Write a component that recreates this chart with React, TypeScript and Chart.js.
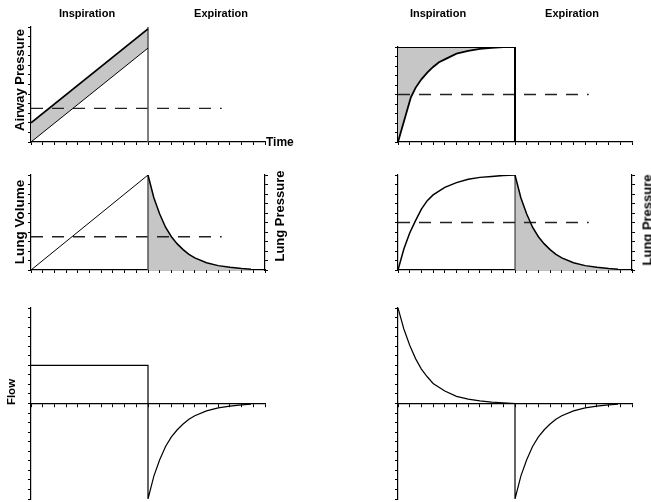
import React, { useEffect, useRef } from "react";
import { Chart, registerables } from "chart.js";

Chart.register(...registerables);

const W = 651;
const H = 502;
const TICK = 3;
const FONT = '"Liberation Sans", Arial, Helvetica, sans-serif';

// ---------- data ----------
const phaseLabels = ["Inspiration", "Expiration"];
const timeRange = [0, 20];
const switchTime = [10, 10];

// top-left: constant flow -> airway pressure ramp
const rampTime = [0, 10];
const airwayRamp = [2, 11.8];
const alveolarRamp = [0, 9.8];
const pressureSpanTop = [0, 12];

// dashed reference levels
const dashTime = [0, 16.3];
const dashLevelLow = [3.5, 3.5];
const dashLevelMid = [5, 5];

// top-right: pressure control, alveolar pressure rise
const riseTime = [0, 1.1, 1.5, 2, 2.5, 3, 3.5, 4, 5, 6, 7, 8, 9, 10];
const alveolarRise = [0, 4.7, 5.7, 6.6, 7.3, 7.9, 8.4, 8.7, 9.3, 9.6, 9.8, 9.9, 10, 10];
const plateauTime = [0, 10];
const plateauLevel = [10, 10];
const plateauDrop = [10, 0];

// middle row: lung volume
const volumeRampTime = [0, 10];
const volumeRamp = [0, 10];
const volumeRiseTime = [0, 0.5, 1, 1.5, 2, 2.5, 3, 4, 5, 6, 7, 8, 9, 10];
const volumeRise = [0, 2.2, 3.9, 5.2, 6.4, 7.3, 7.9, 8.7, 9.2, 9.55, 9.75, 9.85, 9.95, 10];
const decayTime = [10, 10.5, 11, 11.5, 12, 12.5, 13, 13.5, 14, 15, 16, 17, 18, 18.8];
const volumeDecay = [10, 7.6, 5.9, 4.5, 3.5, 2.75, 2.15, 1.65, 1.28, 0.77, 0.46, 0.28, 0.15, 0.08];
const volumeSpan = [0, 10];

// bottom row: flow
const flowLeftTime = [0, 10, 10, 10.5, 11, 11.5, 12, 12.5, 13, 13.5, 14, 15, 16, 17, 18, 18.8];
const flowLeft = [4, 4, -10, -7.6, -5.9, -4.5, -3.5, -2.75, -2.15, -1.65, -1.28, -0.77, -0.46, -0.28, -0.15, -0.08];
const flowRightTime = [0, 0.5, 1, 1.5, 2, 2.5, 3, 4, 5, 6, 7, 8, 9, 10, 10, 10.5, 11, 11.5, 12, 12.5, 13, 13.5, 14, 15, 16, 17, 18, 18.8];
const flowRight = [10, 7.8, 6.1, 4.7, 3.6, 2.8, 2.1, 1.3, 0.75, 0.45, 0.27, 0.15, 0.08, 0, -10, -7.6, -5.9, -4.5, -3.5, -2.75, -2.15, -1.65, -1.28, -0.77, -0.46, -0.28, -0.15, -0.08];

// ---------- helpers ----------
const pts = (xs: number[], ys: number[]) => xs.map((x, i) => ({ x, y: ys[i] }));
const SHADE = "#c6c6c6";

const line = (data: any, extra: any = {}) => ({
  data,
  borderColor: "#000",
  borderWidth: 1,
  pointRadius: 0,
  tension: 0,
  fill: false,
  ...extra,
});
const dashed = (levels: number[]) =>
  line(pts(dashTime, levels), { borderColor: "#222", borderWidth: 1.3, borderDash: [12, 9] });

type Panel = {
  area: [number, number, number, number];
  yRange: [number, number];
  zeroAxis?: boolean;
  rightAxis?: boolean;
  datasets: any[];
};

const panels: Panel[] = [
  {
    area: [31, 27, 265, 142],
    yRange: [0, 12],
    datasets: [
      line(pts(rampTime, alveolarRamp), { borderWidth: 1 }),
      line(pts(rampTime, airwayRamp), { borderWidth: 1.8, fill: "-1", backgroundColor: SHADE }),
      line(pts(switchTime, pressureSpanTop), { borderColor: "#555", borderWidth: 1.5 }),
      dashed(dashLevelLow),
    ],
  },
  {
    area: [398, 47, 632, 142],
    yRange: [0, 10],
    datasets: [
      line(pts(riseTime, alveolarRise), { borderWidth: 1.8, fill: "end", backgroundColor: SHADE }),
      line(pts(plateauTime, plateauLevel), { borderWidth: 2 }),
      line(pts(switchTime, plateauDrop), { borderWidth: 2 }),
      dashed(dashLevelMid),
    ],
  },
  {
    area: [31, 175, 265, 270],
    yRange: [0, 10],
    rightAxis: true,
    datasets: [
      line(pts(volumeRampTime, volumeRamp), { borderWidth: 1 }),
      line(pts(decayTime, volumeDecay), { borderWidth: 1.5, fill: "origin", backgroundColor: SHADE }),
      line(pts(switchTime, volumeSpan), { borderColor: "#555", borderWidth: 1.5 }),
      dashed(dashLevelLow),
    ],
  },
  {
    area: [398, 175, 632, 270],
    yRange: [0, 10],
    rightAxis: true,
    datasets: [
      line(pts(volumeRiseTime, volumeRise), { borderWidth: 1.5 }),
      line(pts(decayTime, volumeDecay), { borderWidth: 1.5, fill: "origin", backgroundColor: SHADE }),
      line(pts(switchTime, volumeSpan), { borderColor: "#222", borderWidth: 1 }),
      dashed(dashLevelMid),
    ],
  },
  {
    area: [31, 308, 265, 499],
    yRange: [-10, 10],
    zeroAxis: true,
    datasets: [line(pts(flowLeftTime, flowLeft), { borderWidth: 1.2 })],
  },
  {
    area: [398, 308, 632, 499],
    yRange: [-10, 10],
    zeroAxis: true,
    datasets: [line(pts(flowRightTime, flowRight), { borderWidth: 1.2 })],
  },
];

const axisStyle = () => ({
  ticks: { display: false, stepSize: 1, maxTicksLimit: 100, autoSkip: false },
  grid: { drawOnChartArea: false, drawTicks: true, tickLength: TICK, color: "#000", lineWidth: 1 },
  border: { display: true, color: "#000", width: 1.2 },
});

function buildConfig(p: Panel): any {
  const [l, t, r, b] = p.area;
  const scales: any = {
    x: {
      type: "linear",
      min: timeRange[0],
      max: timeRange[1],
      position: p.zeroAxis ? { y: 0 } : "bottom",
      ...axisStyle(),
    },
    y: { type: "linear", min: p.yRange[0], max: p.yRange[1], position: "left", ...axisStyle() },
  };
  if (p.rightAxis) {
    scales.y2 = { type: "linear", min: p.yRange[0], max: p.yRange[1], position: "right", ...axisStyle() };
  }
  return {
    type: "line",
    data: { datasets: p.datasets },
    options: {
      animation: false,
      responsive: false,
      devicePixelRatio: 1,
      events: [],
      layout: {
        padding: {
          left: l - TICK,
          top: t,
          right: W - r - (p.rightAxis ? TICK : 0),
          bottom: p.zeroAxis ? H - b : H - b - TICK,
        },
      },
      plugins: {
        legend: { display: false },
        tooltip: { enabled: false },
        filler: { drawTime: "beforeDatasetsDraw" },
      },
      scales,
    },
  };
}

function PanelChart({ panel }: { panel: Panel }) {
  const ref = useRef<HTMLCanvasElement>(null);
  useEffect(() => {
    const chart = new Chart(ref.current as HTMLCanvasElement, buildConfig(panel));
    return () => chart.destroy();
  }, [panel]);
  return (
    <canvas
      ref={ref}
      width={W}
      height={H}
      style={{ position: "absolute", left: 0, top: 0, width: W, height: H }}
    />
  );
}

const textBase: React.CSSProperties = {
  position: "absolute",
  fontFamily: FONT,
  fontWeight: "bold",
  color: "#000",
  whiteSpace: "nowrap",
  lineHeight: 1,
};

function Label({ text, x, y, size, rotate }: { text: string; x: number; y: number; size: number; rotate?: boolean }) {
  return (
    <div
      style={{
        ...textBase,
        left: x,
        top: y,
        fontSize: size,
        transform: `translate(-50%, -50%)${rotate ? " rotate(-90deg)" : ""}`,
      }}
    >
      {text}
    </div>
  );
}

export default function App() {
  return (
    <div
      style={{
        position: "fixed",
        left: 0,
        top: 0,
        width: W,
        height: H,
        background: "#fff",
        overflow: "hidden",
      }}
    >
      {panels.map((p, i) => (
        <PanelChart key={i} panel={p} />
      ))}
      <Label text={phaseLabels[0]} x={87} y={13} size={11} />
      <Label text={phaseLabels[1]} x={221} y={13} size={11} />
      <Label text={phaseLabels[0]} x={438} y={13} size={11} />
      <Label text={phaseLabels[1]} x={572} y={13} size={11} />
      <Label text="Airway Pressure" x={19} y={80} size={13} rotate />
      <div style={{ ...textBase, left: 266, top: 142, fontSize: 12, transform: "translateY(-50%)" }}>Time</div>
      <Label text="Lung Volume" x={20} y={222} size={13.5} rotate />
      <Label text="Lung Pressure" x={279} y={216} size={13} rotate />
      <Label text="Lung Pressure" x={647} y={220} size={13} rotate />
      <Label text="Flow" x={12} y={392} size={11.5} rotate />
    </div>
  );
}
